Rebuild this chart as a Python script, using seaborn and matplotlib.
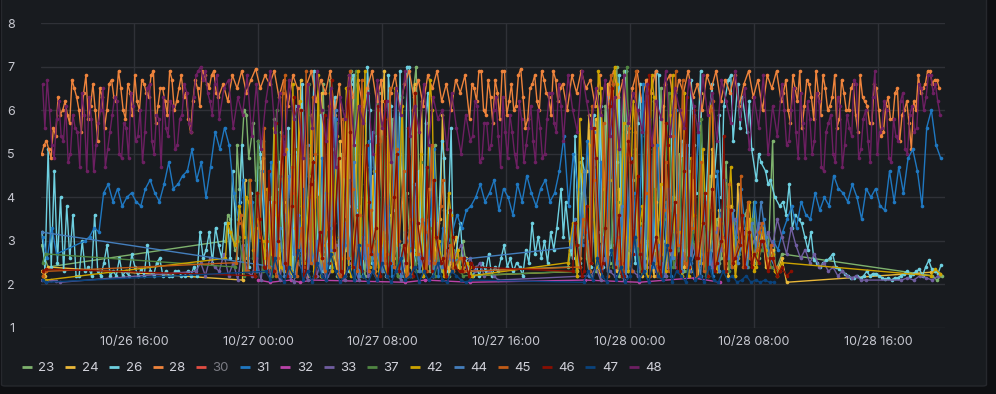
import numpy as np
import pandas as pd
import matplotlib
matplotlib.use("Agg")
import matplotlib.pyplot as plt
import matplotlib.dates as mdates
from matplotlib.lines import Line2D
from matplotlib.patches import FancyBboxPatch
import seaborn as sns

# ---------------- data ----------------
T0 = pd.Timestamp("2023-10-26 10:00")
X_END_H = 58.32
tick_hours = [6, 14, 22, 30, 38, 46, 54]
y_ticks = [1, 2, 3, 4, 5, 6, 7, 8]

series_names = ["23", "24", "26", "28", "30", "31", "32", "33", "37", "42", "44", "45", "46", "47", "48"]
series_colors = ["#7EB26D", "#EAB839", "#6ED0E0", "#EF843C", "#E24D42", "#1F78C1", "#BA43A9", "#705DA0",
                 "#508642", "#CCA300", "#447EBC", "#C15C17", "#890F02", "#0A437C", "#6D1F62"]
hidden_series = ["30"]

# each series: list of (start hour, sample step in hours, values)
s28 = [(0.05, 0.3, [
    5.0, 5.3, 4.9, 5.4, 5.9, 6.2, 5.7, 6.5, 6.0, 6.4,
    5.8, 6.6, 5.3, 6.3, 6.0, 6.7, 6.2, 6.5, 5.8, 6.4,
    6.8, 6.0, 6.6, 6.3, 6.9, 6.1, 6.5, 5.9, 6.7, 6.2,
    6.8, 6.4, 5.5, 6.7, 6.1, 6.8, 6.5, 6.9, 6.3, 6.6,
    6.2, 6.8, 6.5, 6.9, 6.4, 6.7, 6.95, 6.5, 6.8, 6.6,
    6.9, 6.3, 6.7, 6.1, 6.8, 6.5, 3.8, 6.6, 6.9, 6.2,
    6.7, 6.4, 6.9, 5.9, 6.6, 4.5, 6.8, 6.3, 6.7, 6.1,
    6.5, 6.9, 6.2, 6.7, 3.2, 6.4, 6.8, 6.0, 6.6, 6.9,
    6.3, 6.7, 6.1, 6.8, 6.5, 6.9, 6.2, 6.6, 6.0, 6.7,
    6.4, 6.8, 5.8, 6.5, 6.9, 6.0, 6.7, 5.7, 6.4, 6.9,
    5.9, 6.6, 6.1, 6.95, 5.6, 6.5, 6.8, 6.0, 6.7, 6.3,
    6.9, 6.2, 6.6, 6.0, 6.8, 6.4, 6.9, 6.5, 6.7, 6.1,
    6.8, 4.2, 6.6, 6.9, 6.3, 6.7, 5.0, 6.5, 6.9, 6.2,
    6.7, 6.4, 6.9, 3.5, 6.6, 6.8, 6.1, 6.7, 6.4, 6.9,
    6.3, 6.6, 6.0, 6.8, 6.5, 6.9, 6.2, 6.7, 6.4, 6.8,
    6.1, 6.6, 6.9, 6.3, 6.7, 6.0, 6.8, 6.5, 6.9, 6.2,
    6.7, 5.7, 6.5, 6.9, 6.1, 6.6, 5.8, 6.4, 6.8, 6.0,
    6.3, 5.6, 6.7, 6.0, 6.5, 5.9, 6.8, 6.2, 5.7, 6.6,
    6.0, 5.5, 6.3, 5.8, 6.5, 5.9, 6.2, 5.1, 6.0, 6.4,
    6.6, 6.9, 6.7, 6.5]),
       (0.2, 0.3, [
    5.2, 5.1, 5.6, 6.3, 6.0, 5.9, 6.7, 6.3, 5.5, 6.8,
    6.1, 6.0, 6.5, 5.6, 6.6, 6.3, 6.9, 6.0, 6.6, 5.9,
    6.2, 6.7, 6.4, 6.8, 5.7, 6.5, 6.2, 6.9, 6.0, 6.5,
    6.3, 5.8, 6.2, 6.5, 6.9, 6.6, 6.8, 6.4]),
       (27.8, 0.3, [
    6.6, 6.2, 6.9, 5.9, 6.3, 6.7, 5.8, 6.9, 6.2, 6.0,
    6.8, 6.3, 5.8, 6.6, 6.2, 6.9, 6.4, 5.9, 6.7, 6.5]),
       (47.9, 0.3, [
    6.4, 6.0, 6.8, 6.2, 5.6, 6.7, 6.3, 6.9, 5.9, 6.5,
    6.1, 6.8, 5.8, 6.4, 6.0, 6.6, 5.5, 6.3, 6.1, 5.7,
    6.5, 5.4, 6.1, 5.8, 6.4, 5.3, 6.0, 5.7, 6.2, 6.8,
    6.5, 6.9, 6.6, 6.7])]

s48 = [(0.1, 0.3, [
    6.6, 6.7, 5.2, 5.8, 5.4, 6.1, 5.0, 5.6, 4.7, 5.9,
    6.3, 4.6, 5.7, 6.5, 5.1, 5.9, 6.2, 4.9, 5.6, 6.4,
    5.3, 6.0, 5.5, 6.6, 5.0, 5.8, 6.3, 5.4, 6.1, 5.2,
    5.9, 6.4, 5.5, 6.8, 7.0, 6.9, 6.2, 6.6, 5.8, 6.5,
    6.7, 5.6, 6.3, 5.9, 6.8, 5.4, 6.6, 5.1, 6.2, 6.9,
    5.5, 6.4, 5.0, 6.7, 5.8, 6.1, 4.9, 6.6, 5.6, 6.9,
    6.0, 5.3, 6.5, 4.7, 6.3, 5.8, 6.8, 5.2, 6.1, 5.7,
    6.4, 5.0, 6.7, 5.6, 6.2, 4.8, 6.5, 5.9, 6.9, 5.4,
    6.1, 5.5, 6.6, 5.2, 6.3, 5.8, 6.0, 5.1, 6.4, 5.6,
    5.0, 5.9, 5.3, 6.2, 4.8, 5.7, 5.1, 6.0, 5.4, 6.3,
    4.9, 5.5, 4.7, 5.8, 5.2, 6.1, 4.8, 5.6, 5.0, 6.4,
    5.7, 6.6, 5.3, 6.8, 6.0, 5.5, 6.9, 6.2, 5.6, 6.5,
    5.9, 6.7, 5.4, 6.3, 5.1, 6.8, 5.7, 6.4, 6.0, 5.5,
    6.6, 5.2, 6.2, 5.8, 6.9, 5.4, 6.5, 6.0, 5.6, 6.7,
    6.1, 5.5, 6.8, 5.9, 6.4, 5.3, 6.7, 6.2, 5.7, 6.9,
    5.8, 6.5, 5.1, 6.3, 5.6, 6.8, 5.0, 6.1, 5.4, 6.6,
    5.2, 6.0, 5.5, 6.4, 4.9, 5.8, 5.3, 6.2, 4.6, 5.7,
    5.0, 6.3, 4.7, 5.9, 5.4, 6.6, 5.1, 6.0, 4.8, 6.9,
    5.5, 6.2, 4.9, 5.8, 5.3, 6.4, 5.0, 6.1, 5.6, 6.5,
    6.3, 6.8, 6.6, 5.9]),
       (0.25, 0.3, [
    5.6, 6.0, 4.9, 6.2, 5.3, 4.8, 5.9, 5.5, 6.4, 4.6,
    5.8, 5.2, 6.0, 4.7, 5.5, 6.3, 5.0, 5.7, 4.9, 6.1,
    5.4, 4.8, 6.5, 5.3, 5.9, 4.7, 5.6, 6.2, 5.1, 5.8,
    6.6, 5.7, 6.3, 6.9, 6.7, 6.4, 5.9, 6.8]),
       (27.85, 0.3, [
    5.4, 6.1, 4.9, 5.7, 5.2, 6.3, 4.7, 5.5, 5.9, 5.0,
    6.2, 4.8, 5.6, 5.3, 6.0, 4.9, 5.8, 6.4, 5.5, 6.1]),
       (47.95, 0.3, [
    6.0, 5.3, 6.5, 4.9, 5.7, 6.2, 5.0, 6.4, 4.7, 5.5,
    5.9, 4.8, 6.1, 5.2, 5.6, 6.7, 4.9, 5.8, 5.3, 6.3,
    5.0, 5.6, 6.0, 4.8, 5.4, 6.2, 5.1, 5.9, 5.5, 6.6,
    6.0, 6.8, 6.4, 6.2])]

s31 = [(0.1, 0.3, [3.1, 2.6, 3.3, 2.7]),
       (2.84, 0.3, [
    3.0, 3.1, 3.3, 3.2, 4.1, 4.3, 3.9, 4.2, 3.8, 4.0,
    4.1, 3.9, 3.8, 4.2, 4.4, 4.1, 3.9, 4.3, 4.8, 4.2,
    4.3, 4.5, 4.6, 5.1, 4.4, 4.8, 4.0, 4.7, 5.5, 5.1,
    5.6, 5.2, 4.1, 3.5, 4.4, 2.6, 3.9, 2.3, 4.6, 3.1,
    4.8, 2.4, 4.5, 3.6, 2.2, 5.0, 2.8, 4.2, 2.3, 3.7,
    2.5, 4.9, 2.2, 3.3, 5.8, 2.4, 2.9, 4.4, 2.1, 3.8,
    2.6, 5.3, 2.3, 3.0, 2.5, 4.7, 2.2, 3.6, 6.1, 2.4,
    2.8, 4.0, 2.3, 3.4, 2.6, 5.1, 2.2, 3.3, 2.9, 3.2,
    3.6, 3.3, 3.7, 3.8, 4.0, 4.3, 3.9, 4.1, 4.4, 3.7,
    4.2, 4.0, 3.6, 4.3, 3.9, 4.5, 4.1, 3.8, 4.2, 4.4,
    3.9, 4.1, 4.6, 5.4, 3.8, 5.0, 4.2, 2.9, 5.3, 3.5,
    2.4, 4.8, 2.6, 6.2, 3.1, 2.3, 5.5, 2.8, 4.1, 2.2,
    6.6, 3.0, 2.4, 5.2, 2.7, 3.9, 2.2, 6.0, 2.9, 4.4,
    2.3, 3.5, 5.7, 2.5, 3.2, 2.2, 4.6, 2.8, 3.7, 2.4,
    3.1, 4.2, 3.3, 2.6, 3.9, 2.9, 3.5, 2.7, 3.0, 2.8,
    3.2, 3.5, 3.8, 3.3, 3.9, 3.6, 3.5, 4.1, 3.7, 4.0,
    3.8, 4.5, 4.2, 4.1, 3.9, 4.3, 4.0, 3.5, 4.2, 4.0,
    4.2, 3.8, 3.7, 4.6, 3.9, 4.7, 4.1, 4.9, 5.1, 4.6,
    3.8, 5.6, 6.0, 5.2, 4.9])]

s26 = [(0.06, 0.2, [
    3.2, 2.3, 5.1, 2.4, 4.6, 2.5, 4.0, 2.3, 3.8, 2.6, 3.6, 2.2,
    2.2, 3.0, 2.3, 2.4, 2.2, 3.6, 2.3, 2.2, 2.5, 2.9, 2.2, 2.3,
    2.2, 2.6, 2.2, 2.3, 2.2, 2.7, 2.4, 2.2, 2.35, 2.2, 2.9, 2.3,
    2.2, 2.5, 2.6, 2.2, 2.3, 2.2, 2.2, 2.3, 2.3, 2.2, 2.2, 2.3,
    2.2, 2.4, 2.2, 3.2, 2.6, 2.8, 3.2, 2.5, 3.3, 2.9, 2.6, 3.4]),
       (12.06, 0.3, [
    3.4, 4.6, 2.6, 5.2, 2.9, 4.1, 2.5, 5.0, 2.8, 3.9,
    2.4, 4.8, 2.7, 5.6, 2.3, 3.6, 6.6, 2.5, 4.4, 2.2,
    5.9, 3.0, 2.4, 6.3, 2.6, 4.9, 2.3, 6.8, 3.3, 2.2,
    7.0, 2.5, 5.4, 2.9, 2.2, 6.1, 3.7, 6.9, 2.4, 7.0,
    2.8, 4.6, 2.2, 6.4, 3.1, 2.5, 5.3, 2.3, 5.6, 2.7,
    3.4, 2.6]),
       (12.21, 0.6, [
    2.6, 3.9, 2.4, 5.3, 2.3, 4.2, 2.5, 6.1, 2.7, 6.9,
    2.3, 5.1, 2.2, 6.6, 3.2, 6.0, 2.4, 6.8, 2.6, 7.0,
    2.3, 5.7, 2.5, 4.9, 2.4, 2.6]),
       (27.68, 0.2, [
    2.3, 2.2, 2.4, 2.2, 2.5, 2.3, 2.7, 2.2, 2.4, 2.3,
    2.6, 2.9, 2.4, 2.6, 2.3, 2.5, 2.4, 2.2, 2.8, 2.5,
    3.4, 2.7, 3.1, 2.6, 3.0, 2.5, 3.2, 2.8, 3.3]),
       (33.55, 0.3, [
    4.2, 3.9, 2.8, 5.4, 2.5, 4.6, 2.3, 5.9, 3.2, 2.4,
    6.3, 2.9, 4.8, 2.2, 6.9, 3.5, 2.5, 6.6, 2.3, 5.1,
    2.8, 6.8, 3.0, 2.4, 6.2, 3.6, 5.3, 2.7, 6.7, 4.1,
    6.9, 3.4, 6.0, 4.5, 5.9, 6.1, 6.7, 5.3, 6.6, 6.3,
    5.5, 5.1, 4.4, 4.8, 4.6, 4.4, 4.0, 3.8]),
       (33.7, 0.6, [
    3.1, 2.6, 4.9, 2.4, 6.1, 2.7, 6.8, 2.3, 5.7, 3.0,
    6.9, 2.5, 6.4, 2.8, 5.2, 3.3, 6.6, 4.0, 6.8, 5.6,
    6.2, 5.0, 4.3]),
       (47.87, 0.2, [
    3.9, 3.6, 4.3, 3.3, 3.6, 3.5, 3.4, 3.1, 2.8, 3.2,
    2.55, 2.5, 2.4, 2.5, 2.55, 2.6, 2.7, 2.4, 2.35, 2.3,
    2.25, 2.2, 2.15, 2.15, 2.2, 2.15, 2.2, 2.3, 2.2, 2.25,
    2.25, 2.2, 2.15, 2.12, 2.15, 2.1, 2.15, 2.15, 2.2, 2.25,
    2.3, 2.2, 2.25, 2.3, 2.35, 2.2, 2.4, 2.55, 2.35, 2.3,
    2.25, 2.45])]

s23 = [(0.05, 0.2, [2.9, 2.6, 2.4]),
       (11.9, 0.3, [
    3.0, 3.5, 2.8, 4.2, 6.0, 4.9, 5.7, 4.7, 5.3, 2.6,
    4.0, 2.3, 5.5, 2.9, 3.4, 2.2, 6.2, 2.7, 4.5, 2.3,
    3.1, 6.6, 2.4, 3.8, 2.2, 5.0, 2.8, 6.9, 2.5, 3.3,
    2.2, 4.7, 2.6, 6.4, 2.3, 3.6, 5.8, 2.2, 2.9, 4.1,
    2.4, 7.0, 2.7, 3.2, 2.3, 5.2, 2.5, 3.7, 2.2, 2.8,
    2.4, 3.0, 2.3]),
       (12.05, 0.6, [
    3.6, 5.2, 5.9, 4.4, 2.4, 5.8, 2.3, 6.3, 2.6, 4.9,
    2.2, 6.7, 2.5, 5.4, 2.3, 3.9, 6.1, 2.4, 5.0, 2.2,
    6.5, 2.6, 4.2, 2.3, 2.9, 2.4]),
       (34.0, 0.3, [
    2.4, 3.3, 2.2, 4.1, 2.6, 5.6, 2.3, 3.0, 6.1, 2.5,
    3.9, 2.2, 6.9, 2.8, 4.4, 2.3, 3.4, 5.7, 2.4, 2.9,
    6.5, 2.2, 3.7, 2.6, 5.0, 2.3, 4.6, 2.9, 2.4, 3.8,
    2.2, 2.8, 3.5, 2.6, 4.8, 2.5, 3.2, 2.9, 3.6, 2.7,
    3.9, 2.6, 3.3, 2.5, 5.3, 2.4, 2.7]),
       (34.15, 0.6, [
    2.7, 4.8, 2.3, 6.4, 2.5, 7.0, 2.3, 5.1, 2.6, 6.2,
    2.4, 4.0, 2.2, 3.4, 2.7, 4.5, 2.5, 3.1, 2.8, 3.7,
    2.5, 2.9, 2.4]),
       (57.5, 0.3, [2.2, 2.1, 2.2])]

s24 = [(0.05, 0.2, [2.3, 2.2, 2.4]),
       (13.0, 0.3, [
    2.1, 2.6, 3.4, 2.3, 4.8, 2.5, 3.2, 5.6, 2.2, 3.9,
    2.4, 6.0, 2.7, 3.5, 2.2, 4.9, 2.9, 6.4, 2.3, 3.1,
    2.5, 5.3, 2.2, 3.8, 6.8, 2.4, 3.0, 2.3, 4.5, 2.6,
    6.2, 2.2, 3.6, 2.8, 5.0, 2.3, 3.3, 6.6, 2.5, 2.9,
    4.2, 2.2, 3.4, 5.9, 2.4, 2.7, 3.1, 2.3, 2.6, 2.2]),
       (13.15, 0.6, [
    4.4, 2.3, 4.9, 2.5, 5.3, 2.2, 6.7, 3.0, 2.4, 5.8,
    2.2, 6.5, 2.8, 4.7, 2.3, 6.9, 2.6, 3.9, 2.2, 6.2,
    2.5, 3.5, 2.3, 2.4]),
       (34.6, 0.3, [
    2.3, 3.1, 4.6, 2.5, 5.8, 2.2, 3.7, 6.3, 2.6, 4.2,
    2.3, 5.5, 2.9, 3.4, 2.2, 6.7, 2.5, 3.9, 2.3, 4.8,
    2.7, 3.2, 6.0, 2.4, 2.9, 4.4, 2.2, 3.6, 2.6, 5.1,
    2.3, 3.0, 2.5, 3.8, 2.2, 3.3, 2.7, 3.5, 2.4, 2.9,
    3.1, 2.5, 2.8, 2.3, 2.6, 2.05]),
       (34.75, 0.6, [
    2.6, 5.9, 2.4, 6.6, 2.3, 6.9, 3.3, 5.4, 2.2, 6.1,
    2.7, 4.9, 2.3, 6.4, 2.5, 3.7, 2.2, 4.3, 2.6, 3.1,
    2.4, 2.3]),
       (57.4, 0.3, [2.28, 2.3, 2.25])]

s42 = [(0.1, 0.2, [2.2, 2.1]),
       (11.9, 0.3, [
    2.6, 3.2, 2.9, 3.8, 3.1, 3.9, 2.8, 3.5, 3.0, 4.2,
    2.7, 3.6, 2.4, 5.1, 2.3, 3.3, 6.2, 2.5, 4.0, 2.2,
    6.8, 2.9, 3.4, 2.3, 5.4, 2.6, 6.5, 2.2, 3.7, 2.8,
    6.9, 2.4, 4.6, 2.3, 3.2, 5.8, 2.5, 2.9, 6.1, 2.2,
    3.5, 2.7, 5.0, 2.3, 6.7, 2.6, 3.0, 2.2, 4.1, 2.4,
    2.8, 2.3, 2.5, 2.2]),
       (12.05, 0.6, [
    3.4, 3.0, 4.0, 3.3, 2.6, 5.6, 2.3, 6.6, 2.5, 5.9,
    2.2, 6.4, 3.1, 2.4, 6.9, 2.6, 5.2, 2.3, 6.5, 2.8,
    4.3, 2.2, 6.0, 2.5, 3.6, 2.3, 2.4]),
       (34.0, 0.3, [
    2.5, 3.4, 2.2, 4.6, 3.0, 5.2, 2.4, 6.5, 3.3, 4.4,
    7.0, 2.6, 5.7, 2.3, 6.2, 2.9, 3.8, 2.2, 6.8, 2.5,
    4.3, 2.3, 5.9, 2.7, 3.2, 6.4, 2.2, 3.6, 2.4, 5.1,
    2.8, 6.0, 2.3, 3.4, 2.6, 4.7, 2.2, 3.0, 2.5, 3.9,
    2.3, 2.8, 3.3, 2.4, 2.7, 2.2, 2.5]),
       (34.15, 0.6, [
    3.0, 5.8, 2.6, 6.9, 2.4, 6.6, 3.1, 5.5, 2.3, 6.3,
    2.7, 6.8, 2.2, 4.9, 2.5, 6.1, 2.3, 3.8, 2.6, 3.3,
    2.4, 2.8, 2.3]),
       (57.4, 0.3, [2.2, 2.35, 2.25])]

s37 = [(0.1, 0.2, [2.5, 2.7]),
       (12.5, 0.3, [
    2.4, 3.1, 2.2, 4.4, 2.6, 5.3, 2.3, 3.7, 2.2, 6.0,
    2.8, 3.4, 2.3, 5.1, 2.5, 2.9, 6.6, 2.2, 4.0, 2.7,
    3.2, 2.4, 5.7, 2.3, 3.5, 2.6, 6.9, 2.2, 4.3, 2.8,
    3.0, 2.3, 5.4, 2.5, 3.8, 2.2, 6.3, 2.6, 2.9, 2.3,
    4.8, 2.4, 3.3, 2.2, 2.7, 2.5, 3.6, 2.3, 2.6, 2.2]),
       (34.5, 0.3, [
    2.3, 2.9, 3.6, 2.2, 4.7, 2.5, 3.3, 6.0, 2.4, 3.9,
    2.2, 7.0, 2.7, 3.1, 2.3, 5.5, 2.6, 4.2, 2.2, 3.5,
    6.4, 2.4, 2.8, 4.9, 2.3, 3.2, 2.6, 5.8, 2.2, 3.7,
    2.5, 2.9, 4.4, 2.3, 3.4, 2.7, 3.0, 2.4, 3.5, 2.5,
    2.8, 3.1, 2.4, 2.3])]

s44 = [(0.05, 0.3, [3.2]),
       (15.1, 0.3, [
    2.4, 3.3, 2.2, 4.5, 2.7, 3.6, 2.3, 5.2, 2.5, 3.0,
    2.2, 4.1, 2.8, 6.0, 2.3, 3.4, 2.6, 4.8, 2.2, 3.1,
    2.4, 5.5, 2.7, 2.3, 3.8, 2.5, 6.4, 2.2, 3.2, 2.9,
    4.3, 2.3, 2.6, 3.5, 2.2, 2.8, 2.4, 2.6, 2.55]),
       (34.15, 0.3, [
    2.85, 3.5, 2.4, 4.6, 2.2, 5.5, 2.6, 3.1, 2.3, 6.3,
    2.5, 3.8, 2.2, 4.9, 2.7, 3.3, 2.3, 5.8, 2.4, 2.9,
    2.2, 4.2, 2.6, 3.6, 2.3, 5.2, 2.5, 2.8, 2.2, 3.9,
    2.4, 3.2, 2.3, 4.4, 2.6, 3.7, 2.5, 3.0, 2.4, 3.4,
    2.8, 3.9, 3.1, 2.6, 2.4])]

s45 = [(0.1, 0.2, [2.2, 2.3]),
       (12.6, 0.3, [
    2.5, 3.6, 2.3, 4.4, 2.2, 3.1, 5.6, 2.4, 3.9, 2.6,
    6.4, 2.3, 4.7, 2.2, 3.3, 6.9, 2.5, 5.0, 2.8, 2.3,
    6.1, 3.4, 2.2, 5.8, 2.6, 4.2, 2.3, 6.7, 2.9, 3.7,
    2.2, 5.3, 2.5, 6.5, 2.4, 3.0, 4.6, 2.2, 6.0, 2.7,
    3.5, 2.3, 5.2, 2.5, 3.8, 2.2, 2.9, 2.4, 2.6, 2.3]),
       (12.75, 0.6, [
    3.4, 2.3, 4.1, 3.0, 2.2, 6.8, 4.1, 2.4, 6.3, 2.6,
    5.5, 2.2, 6.9, 3.6, 2.3, 6.0, 2.7, 5.1, 2.2, 6.4,
    3.2, 2.5, 4.4, 2.3, 2.6]),
       (34.8, 0.3, [
    2.4, 3.2, 2.3, 4.4, 2.6, 5.7, 2.2, 6.6, 3.1, 2.5,
    5.0, 2.3, 6.9, 2.8, 4.1, 2.2, 6.2, 2.6, 3.7, 2.3,
    5.4, 2.9, 6.7, 2.4, 3.3, 2.2, 4.8, 2.7, 6.0, 2.5,
    3.5, 2.3, 4.3, 2.6, 3.0, 2.4, 3.9, 2.5, 2.8, 3.4,
    2.6, 2.9, 2.4, 2.3]),
       (34.95, 0.6, [
    3.5, 6.1, 2.4, 6.8, 2.3, 5.6, 2.9, 6.5, 2.2, 4.8,
    6.9, 2.5, 5.9, 2.3, 6.2, 3.1, 2.4, 4.5, 2.6, 3.2,
    2.4])]

s46 = [(0.1, 0.2, [2.3, 2.35]),
       (13.8, 0.3, [
    2.2, 3.5, 2.4, 4.6, 2.3, 3.0, 5.4, 2.2, 3.8, 2.6,
    6.0, 2.3, 4.3, 2.2, 3.2, 5.9, 2.5, 2.8, 4.9, 2.2,
    6.5, 2.4, 3.6, 2.3, 5.2, 2.7, 3.3, 2.2, 6.2, 2.5,
    4.0, 2.3, 2.9, 5.6, 2.2, 3.4, 2.6, 4.7, 2.3, 3.1,
    2.5, 2.2, 3.7, 2.4, 2.3, 2.6, 2.2, 2.4]),
       (13.95, 0.6, [
    4.1, 2.3, 5.7, 2.5, 6.3, 2.2, 4.8, 2.6, 6.7, 2.3,
    5.5, 2.4, 3.9, 6.1, 2.2, 5.0, 2.5, 6.4, 2.3, 4.4,
    2.6, 3.1, 2.3, 2.5]),
       (34.3, 0.3, [
    2.3, 2.9, 2.2, 3.8, 2.5, 4.9, 2.3, 3.3, 6.1, 2.4,
    3.6, 2.2, 5.3, 2.7, 4.5, 2.3, 6.4, 2.5, 3.1, 2.2,
    5.7, 2.8, 3.9, 2.3, 4.6, 2.4, 6.0, 2.6, 3.4, 2.2,
    4.2, 2.5, 3.0, 2.3, 3.7, 2.6, 2.9, 2.4, 3.2, 2.7,
    2.5, 3.0, 2.3, 2.6, 2.2, 2.4, 2.2, 2.3]),
       (34.45, 0.6, [
    3.4, 2.3, 5.6, 2.5, 6.5, 2.2, 4.8, 2.7, 6.8, 2.4,
    5.2, 2.3, 6.3, 2.6, 4.1, 2.3, 5.4, 2.5, 3.6, 2.4,
    3.0, 2.6, 2.3])]

s47 = [(0.1, 0.2, [2.1, 2.05]),
       (14.5, 0.3, [
    2.3, 2.1, 2.6, 2.2, 2.05, 2.4, 2.2, 2.8, 2.1, 2.3,
    2.05, 2.5, 2.2, 2.1, 2.7, 2.3, 2.05, 2.2, 2.4, 2.1,
    2.9, 2.2, 2.05, 2.3, 2.1, 2.5, 2.2, 2.05, 2.3, 2.6,
    2.1, 2.2, 2.4, 2.05, 2.3, 2.1, 2.2, 2.5, 2.1, 2.05,
    2.3, 2.2, 2.1, 2.05, 2.1]),
       (35.0, 0.3, [
    2.05, 2.3, 2.1, 2.6, 2.2, 2.05, 2.8, 2.1, 2.4, 2.05,
    2.2, 3.1, 2.1, 2.3, 2.05, 2.5, 2.2, 2.1, 2.9, 2.05,
    2.3, 2.2, 2.05, 2.6, 2.1, 2.2, 2.05, 2.4, 2.1, 2.05,
    2.3, 2.1, 2.2, 2.05, 2.1, 2.2, 2.05, 2.1, 2.05, 2.1,
    2.05, 2.05])]

s33 = [(0.05, 0.3, [2.1, 2.05, 2.1, 2.08, 2.05]),
       (10.0, 0.3, [
    2.3, 2.5, 2.2, 2.6, 2.4, 2.3, 2.7, 2.2, 2.5, 2.1,
    2.9, 2.3, 2.2, 2.6, 2.1, 3.2, 2.2, 2.4, 2.1, 2.8,
    2.2, 2.05, 2.5, 2.3, 2.1, 3.4, 2.2, 2.6, 2.1, 2.3,
    2.9, 2.2, 2.1, 2.5, 2.4, 2.1, 3.0, 2.2, 2.3, 2.1,
    2.6, 2.2, 2.8, 2.3, 2.1, 2.5, 2.2, 2.4, 2.7, 2.3,
    2.5, 2.9, 2.4, 2.6, 2.8, 2.5, 2.7, 2.9, 2.4, 2.6,
    2.3, 2.5, 2.2, 2.3, 2.2, 2.1]),
       (35.5, 0.3, [
    2.2, 2.4, 2.1, 2.6, 2.3, 2.2, 2.8, 2.1, 2.5, 2.3,
    2.2, 2.7, 2.4, 2.9, 2.3, 2.5, 2.2, 2.8, 2.4, 3.0,
    2.6, 2.3, 2.9, 2.5, 3.2, 2.7, 2.4, 3.3, 2.8, 3.1,
    2.6, 3.5, 2.9, 3.2, 2.7, 3.0, 3.4, 2.8, 3.2, 2.9,
    3.5, 3.1, 2.7, 3.3, 2.9, 2.6, 2.8, 2.5, 2.7, 2.4,
    2.5, 2.3, 2.4, 2.2, 2.3, 2.2, 2.15, 2.2, 2.1, 2.1]),
       (55.5, 0.4, [2.1, 2.15, 2.1, 2.2, 2.15, 2.1, 2.2])]

s32_hours = [14.0, 14.8, 16.1, 16.7, 17.5, 23.5, 24.8, 27.7, 35.1, 38.6, 42.1, 43.8]
s32_values = [2.1, 2.05, 2.1, 2.05, 2.1, 2.05, 2.1, 2.05, 2.1, 2.05, 2.15, 2.05]

series_segments = {
    "23": s23, "24": s24, "26": s26, "28": s28, "31": s31, "33": s33,
    "37": s37, "42": s42, "44": s44, "45": s45, "46": s46, "47": s47, "48": s48,
}

# ---------------- build long table ----------------
rows = []
for name, segs in series_segments.items():
    for start, step, vals in segs:
        for i, v in enumerate(vals):
            rows.append((name, start + step * i, v))
for h, v in zip(s32_hours, s32_values):
    rows.append(("32", h, v))
df = pd.DataFrame(rows, columns=["series", "hour", "value"])
df["time"] = T0 + pd.to_timedelta(df["hour"], unit="h")
df = df.sort_values(["series", "time"]).reset_index(drop=True)

# ---------------- figure ----------------
sns.set_theme(style="dark")
plt.rcParams["font.family"] = ["Inter", "DejaVu Sans"]

W, H = 996, 394
fig = plt.figure(figsize=(W / 100, H / 100), dpi=100, facecolor="#0e0f12")
panel = FancyBboxPatch((1.5 / W, 1 - 386 / H), 985 / W, 400 / H,
                       boxstyle="round,pad=0,rounding_size=0.004",
                       transform=fig.transFigure, facecolor="#181b1f",
                       edgecolor="#26282d", linewidth=1, zorder=-10)
fig.patches.append(panel)

ax = fig.add_axes([41 / W, 1 - 328 / H, (945 - 41) / W, (328 - 23) / H])
ax.set_facecolor("none")
ax.set_zorder(1)

plot_order = [s for s in series_names if s not in hidden_series]
palette = {n: c for n, c in zip(series_names, series_colors)}
sns.lineplot(data=df, x="time", y="value", hue="series", hue_order=plot_order,
             palette=palette, estimator=None, sort=False, marker="o",
             markersize=2.6, markeredgewidth=0, linewidth=1.0, legend=False, ax=ax)

ax.set_xlim(T0, T0 + pd.Timedelta(hours=X_END_H))
ax.set_ylim(1, 8)
ax.set_yticks(y_ticks)
ax.set_xticks([T0 + pd.Timedelta(hours=h) for h in tick_hours])
ax.xaxis.set_major_formatter(mdates.DateFormatter("%m/%d %H:%M"))
ax.set_xlabel("")
ax.set_ylabel("")
for sp in ax.spines.values():
    sp.set_visible(False)
ax.grid(True, color="#2f3137", linewidth=1.0)
ax.set_axisbelow(True)
ax.tick_params(axis="both", length=0, labelsize=9, colors="#c7c8d0")
ax.tick_params(axis="y", pad=19)
ax.tick_params(axis="x", pad=6)
for lbl in ax.get_yticklabels():
    lbl.set_horizontalalignment("right")

handles = [Line2D([0], [0], color=c, linewidth=2, solid_capstyle="butt") for c in series_colors]
leg = fig.legend(handles, series_names, loc="center left",
                 bbox_to_anchor=(22 / W, 1 - 368 / H), ncol=len(series_names),
                 frameon=False, fontsize=9.5, handlelength=0.75, handletextpad=0.5,
                 columnspacing=0.81, borderaxespad=0, borderpad=0)
for t, n in zip(leg.get_texts(), series_names):
    t.set_color("#7b7c84" if n in hidden_series else "#d0d1d9")

fig.savefig("out.png", dpi=100, facecolor=fig.get_facecolor())
